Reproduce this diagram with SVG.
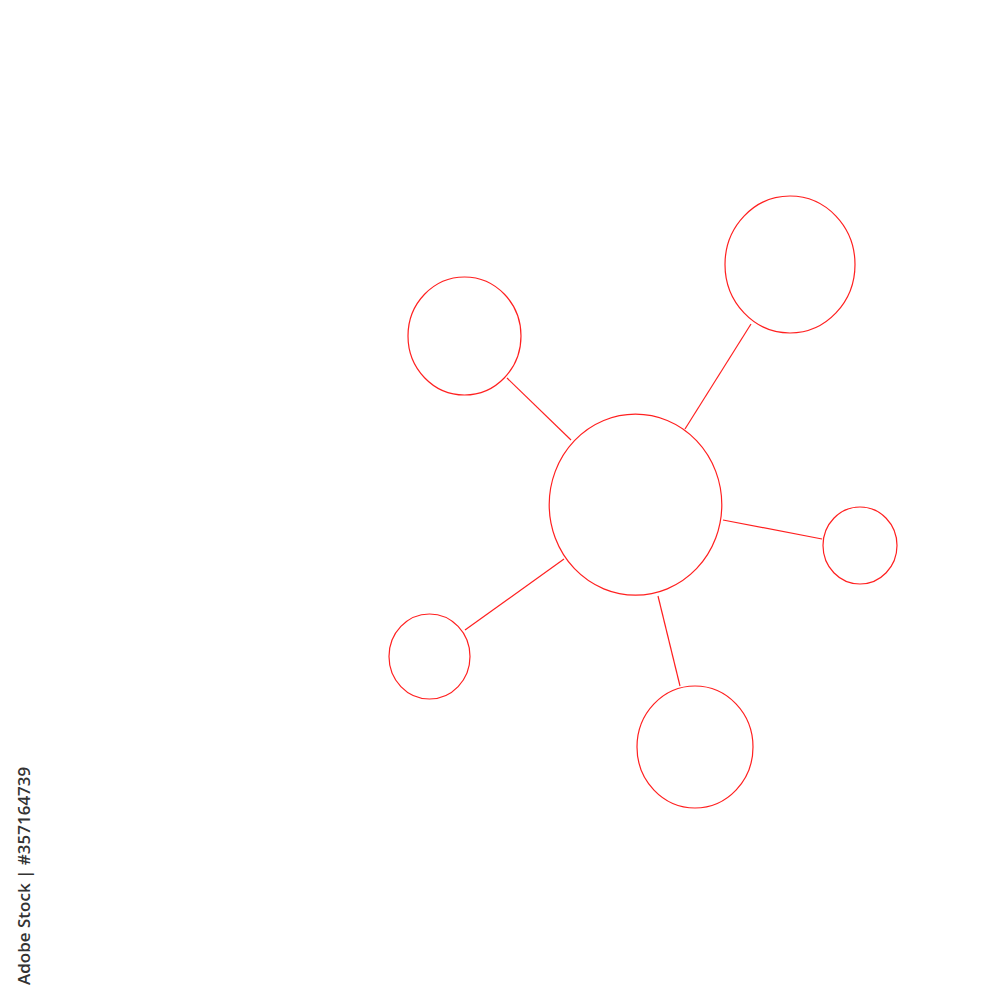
<svg xmlns="http://www.w3.org/2000/svg" width="1000" height="1000" viewBox="0 0 1000 1000">
<style>
.n{fill:none;stroke:#ff2020;stroke-width:1.2}
.c{stroke:#ff2020;stroke-width:1.2;fill:none}
.w{font-family:"Open Sans","Liberation Sans",sans-serif;font-size:17px;fill:#333;font-weight:600}
</style>
<rect width="1000" height="1000" fill="#fff"/>
<g id="connectors">
<line class="c" x1="685" y1="429" x2="751" y2="324"/>
<line class="c" x1="571" y1="440" x2="507" y2="378"/>
<line class="c" x1="723" y1="520" x2="822" y2="539"/>
<line class="c" x1="564" y1="559" x2="465" y2="630"/>
<line class="c" x1="658" y1="596" x2="680" y2="686"/>
</g>
<g id="center"><ellipse class="n" cx="635.5" cy="504.7" rx="86.3" ry="90.5"/></g>
<g id="top-right"><ellipse class="n" cx="790" cy="264.5" rx="65" ry="68.5"/></g>
<g id="upper-left"><ellipse class="n" cx="464.5" cy="336" rx="56.5" ry="59"/></g>
<g id="right"><ellipse class="n" cx="860" cy="545.5" rx="37" ry="38.5"/></g>
<g id="lower-left"><ellipse class="n" cx="429.5" cy="656.5" rx="40.5" ry="42.5"/></g>
<g id="bottom"><ellipse class="n" cx="695" cy="747" rx="58" ry="61"/></g>
<text class="w" transform="translate(30,985) rotate(-90)">Adobe Stock | #357164739</text>
</svg>
